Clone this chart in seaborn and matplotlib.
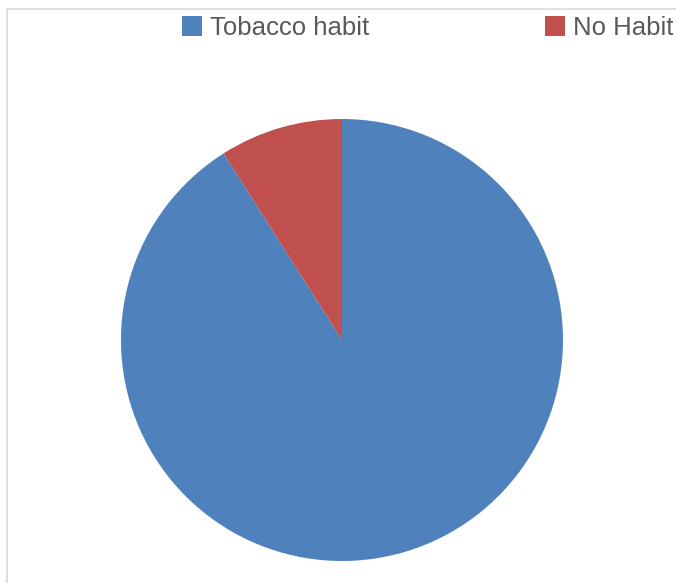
import matplotlib
matplotlib.use("Agg")
import matplotlib.pyplot as plt
from matplotlib.patches import Rectangle, Patch
import seaborn as sns

labels = ["Tobacco habit", "No Habit"]
shares = [91, 9]
colors = ["#4F81BD", "#C0504D"]

sns.set_theme(style="white")
plt.rcParams["font.family"] = ["Liberation Sans", "DejaVu Sans"]

W, H = 676, 583
fig = plt.figure(figsize=(W / 100, H / 100), dpi=100)

# chart frame (light grey, cut off at right and bottom)
fig.patches.append(Rectangle((7 / W, -0.1), 1.2, (H - 9) / H + 0.1,
                             transform=fig.transFigure, fill=False,
                             edgecolor="#d9d9d9", linewidth=1.2))

cx, cy, r = 342, 340, 221
ax = fig.add_axes([(cx - r) / W, (H - cy - r) / H, 2 * r / W, 2 * r / H])
ax.pie(shares, colors=colors, startangle=90, counterclock=False,
       radius=1, wedgeprops=dict(linewidth=0))
ax.set_xlim(-1, 1)
ax.set_ylim(-1, 1)
ax.set_aspect("equal")
ax.axis("off")

handles = [Patch(facecolor=c, edgecolor="none") for c in colors]
fig.legend(handles, labels, loc="center left", bbox_to_anchor=(182 / W, 1 - 28 / H),
           ncol=2, frameon=False, fontsize=18.5, handlelength=0.78, handleheight=0.78,
           handletextpad=0.3, columnspacing=6.85, labelcolor="#595959",
           borderaxespad=0, borderpad=0)

fig.savefig("out.png", dpi=100, facecolor="white")
